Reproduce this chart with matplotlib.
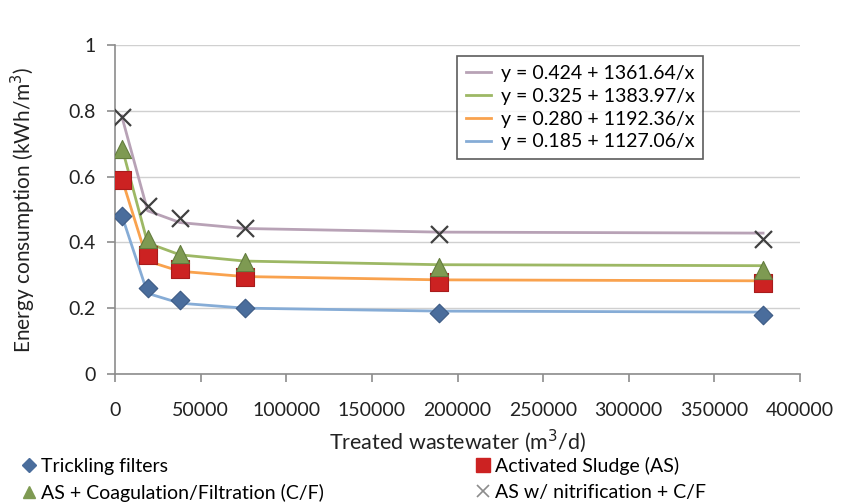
import matplotlib
matplotlib.use("Agg")
import matplotlib.pyplot as plt
from matplotlib.lines import Line2D

plt.rcParams['font.family'] = ['Lato', 'DejaVu Sans']

flow = [3785, 18927, 37854, 75708, 189271, 378541]

tf_pts = [0.48, 0.26, 0.225, 0.20, 0.185, 0.178]
as_pts = [0.59, 0.363, 0.32, 0.295, 0.28, 0.275]
cf_pts = [0.685, 0.41, 0.365, 0.34, 0.325, 0.315]
nit_pts = [0.78, 0.51, 0.475, 0.443, 0.425, 0.41]

tf_fit = [0.483, 0.245, 0.215, 0.200, 0.191, 0.188]
as_fit = [0.595, 0.343, 0.312, 0.296, 0.286, 0.283]
cf_fit = [0.691, 0.398, 0.362, 0.343, 0.332, 0.329]
nit_fit = [0.784, 0.496, 0.460, 0.442, 0.431, 0.428]

fit_labels = ["y = 0.424 + 1361.64/x", "y = 0.325 + 1383.97/x",
              "y = 0.280 + 1192.36/x", "y = 0.185 + 1127.06/x"]
series_labels = ["Trickling filters", "Activated Sludge (AS)",
                 "AS + Coagulation/Filtration (C/F)", "AS w/ nitrification + C/F"]

xticks = [0, 50000, 100000, 150000, 200000, 250000, 300000, 350000, 400000]
yticks = [0, 0.2, 0.4, 0.6, 0.8, 1]

c_nit_line = "#b8a2b6"
c_cf_line = "#9db865"
c_as_line = "#f9a24e"
c_tf_line = "#86acd6"

fig = plt.figure(figsize=(8.41, 5.04), dpi=100)
ax = fig.add_axes([0.137, 0.258, 0.814, 0.653])

ax.plot(flow, nit_fit, color=c_nit_line, lw=2, zorder=2)
ax.plot(flow, cf_fit, color=c_cf_line, lw=2, zorder=2)
ax.plot(flow, as_fit, color=c_as_line, lw=2, zorder=2)
ax.plot(flow, tf_fit, color=c_tf_line, lw=2, zorder=2)

ax.scatter(flow, tf_pts, marker='D', s=90, color="#4a6d9c", edgecolor="#3c5a84", lw=0.8, zorder=3)
ax.scatter(flow, as_pts, marker='s', s=170, color="#cc2222", edgecolor="#a81c1c", lw=0.8, zorder=3)
ax.scatter(flow, cf_pts, marker='^', s=170, color="#7e9a52", edgecolor="#647d3f", lw=0.8, zorder=4)
ax.scatter(flow, nit_pts, marker='x', s=150, color="#404040", lw=1.6, zorder=4)

ax.set_xlim(0, 400000)
ax.set_ylim(0, 1)
ax.set_xticks(xticks)
ax.set_xticklabels([str(t) for t in xticks])
ax.set_yticks(yticks)
ax.set_yticklabels(["0", "0.2", "0.4", "0.6", "0.8", "1"])
ax.yaxis.grid(True, color="#d0d0d0", lw=1)
ax.set_axisbelow(True)
for s in ['top', 'right']:
    ax.spines[s].set_visible(False)
for s in ['left', 'bottom']:
    ax.spines[s].set_color("#8c8c8c")
    ax.spines[s].set_linewidth(1.2)
ax.tick_params(axis='both', colors="#8c8c8c", length=6, width=1.2, labelsize=14,
               labelcolor="#222222", direction='out')
ax.tick_params(axis='x', pad=14)
ax.tick_params(axis='y', pad=8)

ax.set_xlabel("Treated wastewater (m$^3$/d)", fontsize=15.5, color="#222222", labelpad=6)
ax.set_ylabel("Energy consumption (kWh/m$^3$)", fontsize=15, color="#222222", labelpad=22)

handles = [Line2D([], [], color=c, lw=2) for c in [c_nit_line, c_cf_line, c_as_line, c_tf_line]]
leg = ax.legend(handles, fit_labels, loc='upper left', bbox_to_anchor=(0.485, 0.995),
                fontsize=14, frameon=True, fancybox=False, handlelength=1.3,
                handletextpad=0.5, labelspacing=0.3, borderpad=0.45)
leg.get_frame().set_edgecolor("#333333")
leg.get_frame().set_linewidth(1.2)

mh = [Line2D([], [], ls='none', marker='D', ms=7, color="#4a6d9c"),
      Line2D([], [], ls='none', marker='s', ms=10, color="#cc2222"),
      Line2D([], [], ls='none', marker='^', ms=9, color="#7e9a52"),
      Line2D([], [], ls='none', marker='x', ms=9, color="#8c8c8c", mew=1.2)]
order = [0, 2, 1, 3]
fig.legend([mh[i] for i in order], [series_labels[i] for i in order],
           loc='lower left', bbox_to_anchor=(0.005, -0.03), ncol=2,
           fontsize=14, frameon=False, handlelength=0.8, handletextpad=0.2,
           columnspacing=7.8, labelspacing=0.45)

fig.savefig("out.png", dpi=100)
